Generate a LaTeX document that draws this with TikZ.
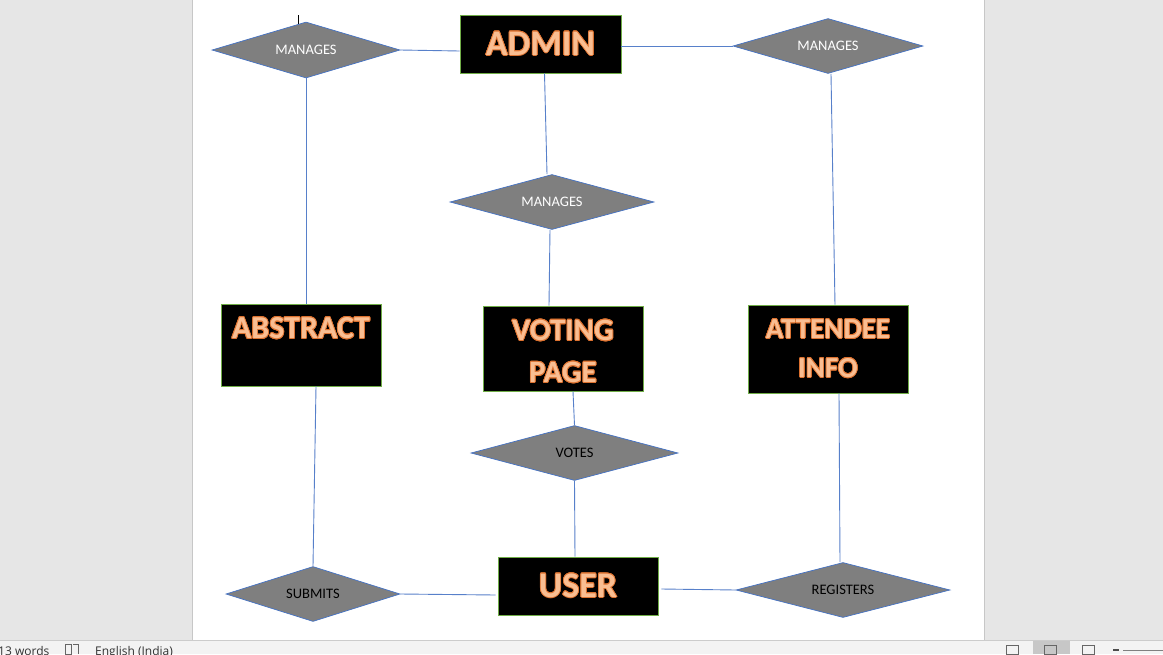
\documentclass[tikz,border=0pt]{standalone}
\usepackage{fontspec}
\setmainfont{Carlito}
\newfontfamily\uifont{Open Sans}
\usepackage{contour}
\usetikzlibrary{shapes.geometric}
\definecolor{entgreen}{HTML}{70AD47}
\definecolor{relblue}{HTML}{4472C4}
\definecolor{relgray}{HTML}{7F7F7F}
\definecolor{glowfill}{HTML}{F9BE92}
\definecolor{glowline}{HTML}{DD7230}
\definecolor{panel}{HTML}{E6E6E6}
\definecolor{statusbar}{HTML}{F3F3F3}
\contourlength{0.75pt}
\newcommand{\glow}[1]{\contour{glowline}{#1}}
\tikzset{
  ent/.style={draw=entgreen, line width=0.8pt, fill=black, text=glowfill,
    inner sep=0pt, align=center},
  rel/.style={diamond, draw=relblue, line width=0.7pt, fill=relgray,
    inner sep=0pt, aspect=3.4, font=\fontsize{14.5}{16}\selectfont},
  link/.style={draw=relblue!90, line width=0.9pt}
}
\begin{document}
\begin{tikzpicture}[x=1pt, y=-1pt]
  \useasboundingbox (0,0) rectangle (1163,654);
  % word window round the page
  \fill[panel] (0,0) rectangle (192,640);
  \fill[panel] (985,0) rectangle (1163,640);
  \draw[black!22] (192.5,0)--(192.5,640) (984.5,0)--(984.5,640);
  \fill[statusbar] (0,640) rectangle (1163,654);
  \draw[black!20] (0,640.5)--(1163,640.5);
  \node[font=\uifont\fontsize{12}{14}\selectfont, text=black!80, anchor=base west,
    inner sep=0pt] (words) at (-2,655) {13 words};
  \node[font=\uifont\fontsize{12}{14}\selectfont, text=black!80, anchor=base west,
    inner sep=0pt] (lang) at (95,655) {English (India)};
  \draw[black!60] (65,644) rectangle (71,654) (73,644)--(78,644)--(78,654);
  \fill[black!22] (1033,641) rectangle (1070,654);
  \draw[black!60] (1006,645) rectangle (1018,654) (1044,645) rectangle (1056,654)
    (1082,645) rectangle (1094,654);
  \draw[black!70, line width=1.4pt] (1113,650)--(1119,650);
  \draw[black!50] (1123,650.5)--(1163,650.5);
  \draw[black] (298,15)--(298,24);
  % relationships
  \node[rel, text=white, minimum width=188, minimum height=56] (m1) at (306,50) {MANAGES};
  \node[rel, text=white, minimum width=190, minimum height=55] (m2) at (828,46) {MANAGES};
  \node[rel, text=white, minimum width=204, minimum height=55] (m3) at (552,202) {MANAGES};
  \node[rel, text=black, minimum width=207, minimum height=55] (vts) at (574.5,453) {VOTES};
  \node[rel, text=black, minimum width=174, minimum height=55] (sub) at (313,594) {SUBMITS};
  \node[rel, text=black, minimum width=214, minimum height=55] (reg) at (843,590) {REGISTERS};
  % entities
  \node[ent, minimum width=161, minimum height=58,
    font=\fontsize{36}{40}\bfseries] (adm) at (540.5,44) {\glow{ADMIN}};
  \node[ent, minimum width=160, minimum height=82,
    font=\fontsize{32}{34}\bfseries] (abs) at (301,345) {\glow{ABSTRACT}\\~};
  \node[ent, minimum width=160, minimum height=85,
    font=\fontsize{31}{42}\bfseries] (vot) at (563,348.5)
    {\rule{0pt}{27pt}\glow{VOTING}\\\glow{PAGE}};
  \node[ent, minimum width=160, minimum height=88,
    font=\fontsize{29}{39}\bfseries] (att) at (828,349) {\glow{ATTENDEE}\\\glow{INFO}};
  \node[ent, minimum width=160, minimum height=58,
    font=\fontsize{36}{40}\bfseries] (usr) at (578,586) {\glow{USER}};
  % connectors
  \draw[link] (m1.east) -- ([yshift=-7pt]adm.west);
  \draw[link] ([yshift=-2pt]adm.east) -- (m2.west);
  \draw[link] ([xshift=4pt]adm.south) -- ([xshift=-5pt]m3.north);
  \draw[link] (m1.south) -- (m1.south |- abs.north);
  \draw[link] ([xshift=3pt]m2.south) -- ([xshift=7pt]att.north);
  \draw[link] ([xshift=-2pt]m3.south) -- ([xshift=-14pt]vot.north);
  \draw[link] ([xshift=10pt]vot.south) -- (vts.north);
  \draw[link] (vts.south) -- ([xshift=-3pt]usr.north);
  \draw[link] ([xshift=15pt]abs.south) -- (sub.north);
  \draw[link] (sub.east) -- ([yshift=-9pt, xshift=-2pt]usr.west);
  \draw[link] ([yshift=-3pt, xshift=3pt]usr.east) -- (reg.west);
  \draw[link] ([xshift=11pt]att.south) -- ([xshift=-3pt]reg.north);
\end{tikzpicture}
\end{document}
